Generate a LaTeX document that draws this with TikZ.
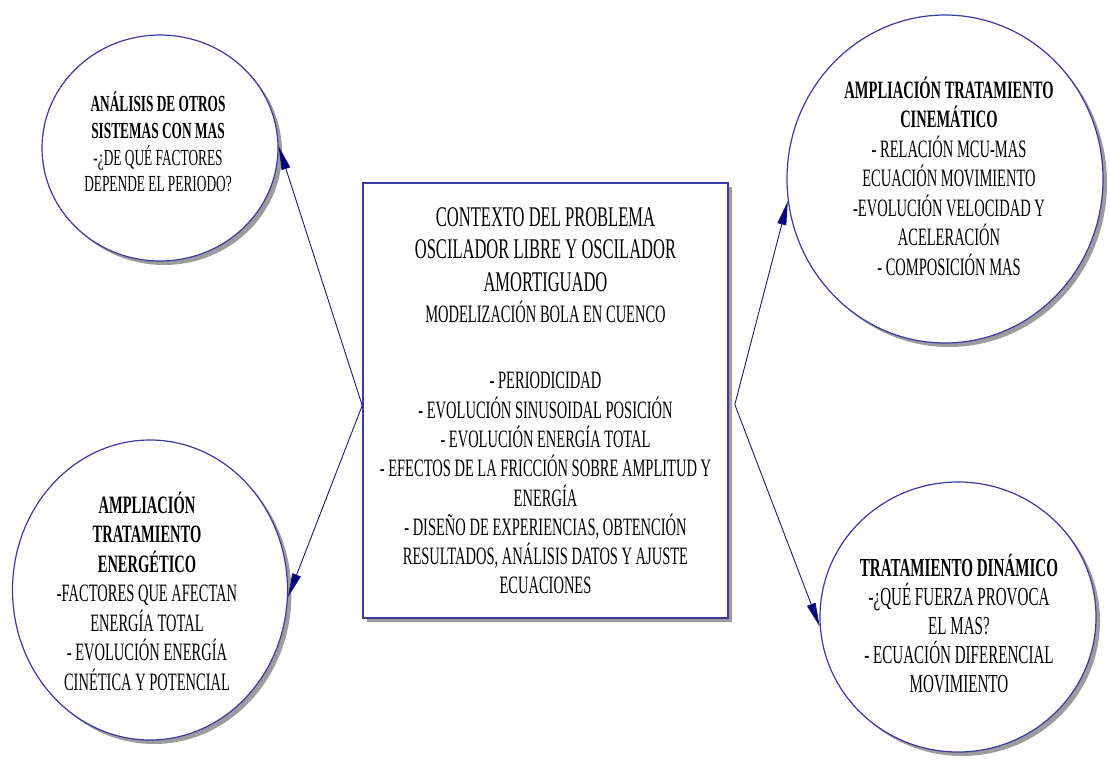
\documentclass[tikz,border=0pt]{standalone}
\usepackage{fontspec}
\setmainfont{Liberation Serif}[FakeStretch=0.58]
\usepackage{tikz}
\usetikzlibrary{arrows.meta,shapes.geometric,shadows}
\definecolor{mapblue}{HTML}{3A3AA6}
\definecolor{mapnavy}{HTML}{1A1A70}
\definecolor{headnavy}{HTML}{000080}
\definecolor{shadowgray}{HTML}{9C9C9C}
\tikzset{
  topicnode/.style={ellipse,draw=mapblue,line width=1.2pt,fill=white,inner sep=0pt,
    drop shadow={shadow xshift=4pt,shadow yshift=-4pt,fill=shadowgray,opacity=1}},
  ctxbox/.style={rectangle,draw=mapblue,line width=1.6pt,fill=white,inner sep=0pt,
    drop shadow={shadow xshift=4pt,shadow yshift=-4pt,fill=shadowgray,opacity=1}},
  topictext/.style={align=center,inner sep=0pt},
  linkedge/.style={-{Triangle[length=24pt,width=9pt,fill=headnavy]},mapnavy,line width=0.9pt},
}

\begin{document}
\begin{tikzpicture}[x=1pt,y=-1pt]
  \useasboundingbox (0,0) rectangle (1110,771);
  \node[topicnode,minimum width=236pt,minimum height=226pt] (nOtros) at (160,148) {};
  \node[topicnode,minimum width=275pt,minimum height=300pt] (nEner) at (150,590) {};
  \node[topicnode,minimum width=316pt,minimum height=328pt] (nCine) at (945,179) {};
  \node[topicnode,minimum width=276pt,minimum height=270pt] (nDina) at (958,617) {};
  \node[ctxbox,minimum width=365pt,minimum height=435pt] (nCtx) at (545.5,400.5) {};
  \node[topictext,font=\fontsize{23}{26.7}\selectfont] (tOtros) at (158,142)
    {\textbf{ANÁLISIS DE OTROS}\\ \textbf{SISTEMAS CON MAS}\\ -¿DE QUÉ FACTORES\\ DEPENDE EL PERIODO?};
  \node[topictext,font=\fontsize{25}{29.5}\selectfont] (tEner) at (147,591)
    {\textbf{AMPLIACIÓN}\\ \textbf{TRATAMIENTO}\\ \textbf{ENERGÉTICO}\\ -FACTORES QUE AFECTAN\\ ENERGÍA TOTAL\\
     - EVOLUCIÓN ENERGÍA\\ CINÉTICA Y POTENCIAL};
  \node[topictext,font=\fontsize{25}{29.5}\selectfont] (tCine) at (949,176)
    {\textbf{AMPLIACIÓN TRATAMIENTO}\\ \textbf{CINEMÁTICO}\\ - RELACIÓN MCU-MAS\\ ECUACIÓN MOVIMIENTO\\
     -EVOLUCIÓN VELOCIDAD Y\\ ACELERACIÓN\\ - COMPOSICIÓN MAS};
  \node[topictext,font=\fontsize{26}{29}\selectfont] (tDina) at (959,624)
    {\textbf{TRATAMIENTO DINÁMICO}\\ -¿QUÉ FUERZA PROVOCA\\ EL MAS?\\ - ECUACIÓN DIFERENCIAL\\ MOVIMIENTO};
  \node[topictext,font=\fontsize{25}{29.3}\selectfont] (tCtx) at (545.5,401)
    {{\fontsize{28.5}{32}\selectfont CONTEXTO DEL PROBLEMA}\\[3pt]
     {\fontsize{28.5}{32}\selectfont OSCILADOR LIBRE Y OSCILADOR}\\[3pt]
     {\fontsize{28.5}{32}\selectfont AMORTIGUADO}\\[2pt]
     MODELIZACIÓN BOLA EN CUENCO\\[37pt]
     - PERIODICIDAD\\ - EVOLUCIÓN SINUSOIDAL POSICIÓN\\ - EVOLUCIÓN ENERGÍA TOTAL\\
     - EFECTOS DE LA FRICCIÓN SOBRE AMPLITUD Y\\ ENERGÍA\\ - DISEÑO DE EXPERIENCIAS, OBTENCIÓN\\
     RESULTADOS, ANÁLISIS DATOS Y AJUSTE\\ ECUACIONES};
  \draw[linkedge] ([yshift=-5pt]nCtx.west) -- (nOtros.1);
  \draw[linkedge] ([yshift=-5pt]nCtx.west) -- (nEner.-3);
  \draw[linkedge] ([xshift=6pt,yshift=-4pt]nCtx.east) -- (nCine.188);
  \draw[linkedge] ([xshift=6pt,yshift=-4pt]nCtx.east) -- (nDina.184);
\end{tikzpicture}
\end{document}
